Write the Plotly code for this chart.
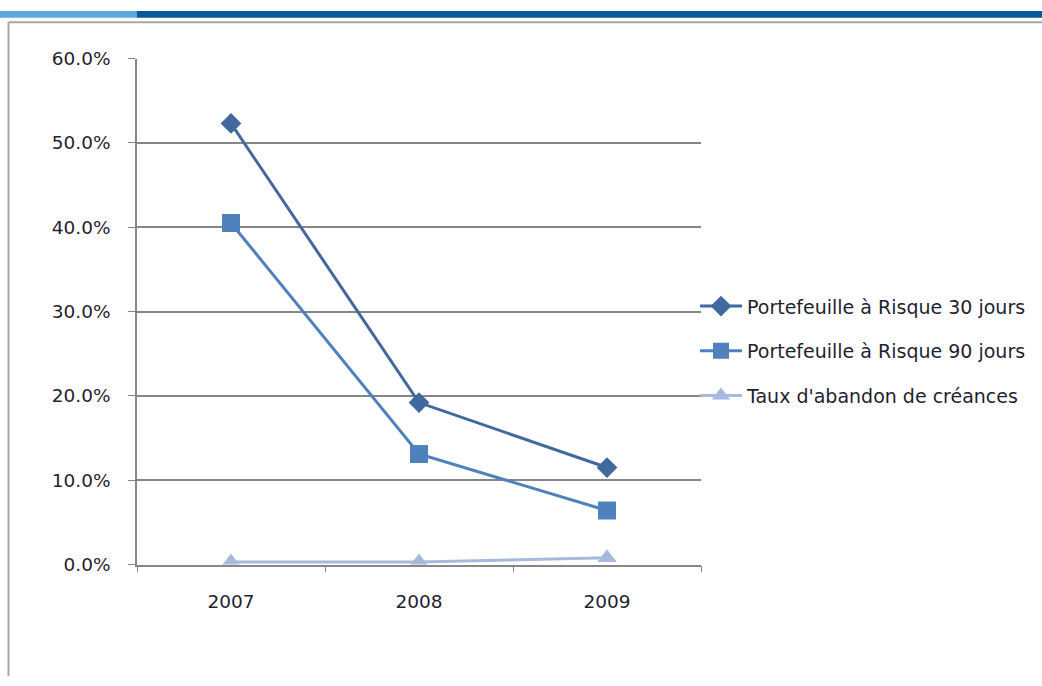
import plotly.graph_objects as go

# Années et séries (taux en fraction)
years = ["2007", "2008", "2009"]
par30 = [0.523, 0.192, 0.115]
par90 = [0.405, 0.131, 0.064]
abandon = [0.003, 0.003, 0.008]

names = [
    "Portefeuille à Risque 30 jours",
    "Portefeuille à Risque 90 jours",
    "Taux d'abandon de créances",
]
y_ticks = [0, 0.1, 0.2, 0.3, 0.4, 0.5, 0.6]

W, H = 1042, 686
FONT = "'DejaVu Sans', Verdana, sans-serif"
TEXT = "#1F1F2F"

fig = go.Figure()

styles = [
    dict(color="#41699E", symbol="diamond", size=16),
    dict(color="#4F81BD", symbol="square", size=18),
    dict(color="#A7BADD", symbol="triangle-up", size=17),
]
for i, (vals, name, st) in enumerate(zip([par30, par90, abandon], names, styles)):
    fig.add_trace(go.Scatter(
        x=years, y=vals, name=name, mode="lines+markers",
        legendgroup=f"g{i}",
        line=dict(color=st["color"], width=3),
        marker=dict(symbol=st["symbol"], size=st["size"], color=st["color"]),
    ))

x0, x1 = 137 / W, 701 / W
y0, y1 = (H - 571) / H, (H - 49) / H

fig.update_layout(
    width=W, height=H,
    margin=dict(l=0, r=0, t=0, b=0),
    paper_bgcolor="white", plot_bgcolor="white",
    font=dict(family=FONT, size=18, color=TEXT),
    showlegend=True,
    legend=dict(
        x=695 / W, y=(H - 351) / H, xanchor="left", yanchor="middle",
        font=dict(family=FONT, size=19, color=TEXT),
        tracegroupgap=17, itemwidth=42, bgcolor="rgba(0,0,0,0)",
    ),
    xaxis=dict(
        domain=[x0, x1], type="category", range=[-0.5, 2.5],
        showline=True, linecolor="#868686", linewidth=1.5,
        ticks="outside", tickson="boundaries", ticklen=6, tickcolor="#868686",
        showgrid=False, zeroline=False, ticklabelstandoff=20,
        tickfont=dict(size=18.5, color=TEXT),
    ),
    yaxis=dict(
        domain=[y0, y1], range=[0, 0.6], tickvals=y_ticks, tickformat=".1%",
        showline=True, linecolor="#868686", linewidth=1.5,
        ticks="outside", ticklen=7, tickcolor="#868686",
        showgrid=True, gridcolor="#868686", gridwidth=1.5, zeroline=False,
        ticklabelstandoff=14,
        tickfont=dict(size=18.5, color=TEXT),
    ),
    shapes=[
        # bandeau supérieur
        dict(type="rect", xref="paper", yref="paper", x0=0, x1=137 / W,
             y0=(H - 7) / H, y1=1, fillcolor="#5BA7DA", line=dict(width=0)),
        dict(type="rect", xref="paper", yref="paper", x0=137 / W, x1=1,
             y0=(H - 7) / H, y1=1, fillcolor="#005B9A", line=dict(width=0)),
        # cadre gris
        dict(type="line", xref="paper", yref="paper", x0=8.5 / W, x1=1,
             y0=(H - 11.5) / H, y1=(H - 11.5) / H, line=dict(color="#A6A6A6", width=2)),
        dict(type="line", xref="paper", yref="paper", x0=8.5 / W, x1=8.5 / W,
             y0=0, y1=(H - 11.5) / H, line=dict(color="#A6A6A6", width=2)),
    ],
)

# page sans marge : la figure occupe exactement la fenêtre
page_css = (
    "document.documentElement.style.margin='0';"
    "document.documentElement.style.padding='0';"
    "document.body.style.margin='0';"
    "document.body.style.padding='0';"
    "document.body.style.overflow='hidden';"
    "var gd=document.querySelector('.plotly-graph-div');"
    "gd.style.position='fixed';gd.style.top='0px';gd.style.left='0px';"
)
fig.write_html("out.html", post_script=page_css)
